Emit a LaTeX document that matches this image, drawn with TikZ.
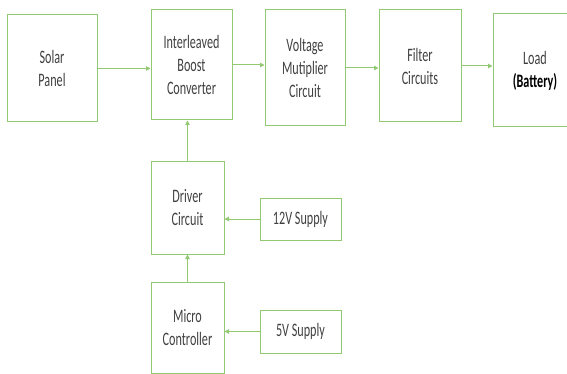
\documentclass[tikz,border=0pt]{standalone}
\usepackage{fontspec}
\setmainfont[FakeStretch=0.64]{Carlito}
\usepackage{tikz}
\usepackage{xcolor}
\usetikzlibrary{arrows.meta, positioning}

\definecolor{boxgreen}{HTML}{93C972}
\definecolor{textgray}{HTML}{404040}

\begin{document}
\begin{tikzpicture}[
    x=1pt, y=-1pt,
    block/.style={
        rectangle,
        draw=boxgreen,
        line width=1pt,
        align=center,
        text=textgray,
        inner sep=0pt,
        font=\fontsize{19}{23}\selectfont
    },
    arrow/.style={-{Triangle[length=4.5pt,width=4.5pt]}, draw=boxgreen, line width=1pt}
]
\useasboundingbox (0,0) rectangle (567,374);

\node[block, minimum width=90pt, minimum height=107pt] (solar) at (52,68.5) {Solar\\Panel};
\node[block, minimum width=81pt, minimum height=110pt, right=53pt of solar, yshift=3.5pt] (boost) {Interleaved\\Boost\\Converter};
\node[block, minimum width=80pt, minimum height=116pt, right=32pt of boost, yshift=-3pt] (volt) {Voltage\\Mutiplier\\Circuit};
\node[block, minimum width=82pt, minimum height=112pt, right=33pt of volt, yshift=2pt] (filter) {Filter\\Circuits};
\node[block, minimum width=84pt, minimum height=113pt, right=31pt of filter, yshift=-4.5pt] (load) {Load\\\textbf{\color{black}(Battery)}};

\node[block, minimum width=73pt, minimum height=92pt, below=41pt of boost.south west, anchor=north west] (driver) {Driver\\Circuit};
\node[block, minimum width=73pt, minimum height=91pt, below=27pt of driver] (micro) {Micro\\Controller};
\node[block, minimum width=81pt, minimum height=42pt, right=35pt of driver, yshift=-11pt] (supply12) {12V Supply};
\node[block, minimum width=81pt, minimum height=43pt, right=35pt of micro, yshift=-4pt] (supply5) {5V Supply};

\draw[arrow] (solar.east) -- (solar.east -| boost.west);
\draw[arrow] (boost.east) -- (boost.east -| volt.west);
\draw[arrow] (volt.east) -- (volt.east -| filter.west);
\draw[arrow] (filter.east) -- (filter.east -| load.west);
\draw[arrow] (driver.north) -- (driver.north |- boost.south);
\draw[arrow] (micro.north) -- (driver.south);
\draw[arrow] (supply12.west) -- (supply12.west -| driver.east);
\draw[arrow] (supply5.west) -- (supply5.west -| micro.east);

\end{tikzpicture}
\end{document}
